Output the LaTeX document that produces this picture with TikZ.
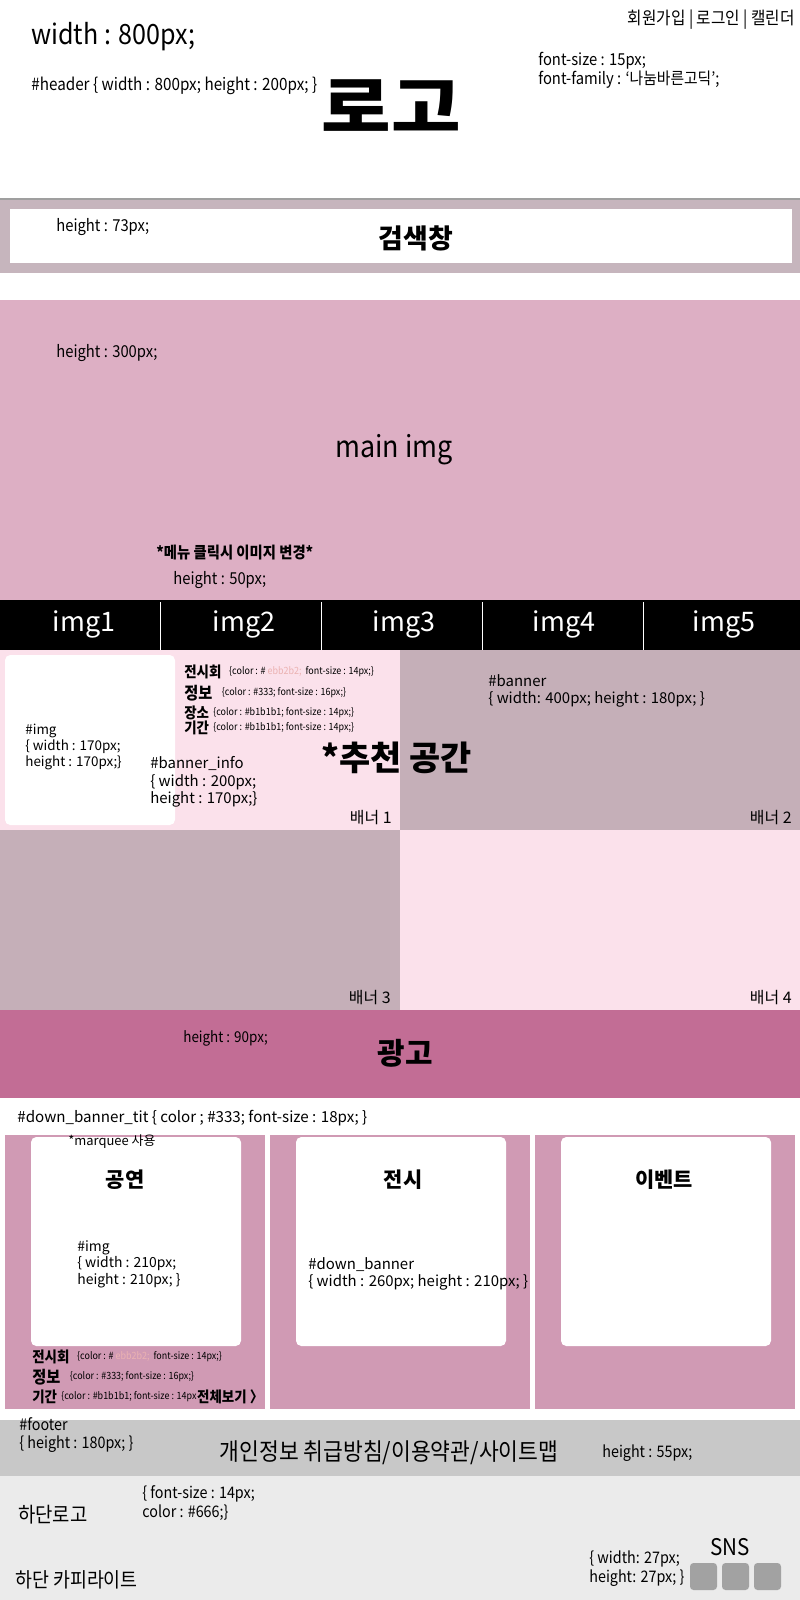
\documentclass[tikz,border=0pt]{standalone}
\usepackage{fontspec}
\setmainfont{Noto Sans CJK KR}
\newfontfamily\narrowfont{Noto Sans CJK KR}[FakeStretch=0.9]
\newfontfamily\widefont{Noto Sans CJK KR}[FakeStretch=1.15]
\usetikzlibrary{positioning}
\definecolor{searchbg}{HTML}{C6B5BD}
\definecolor{mainbg}{HTML}{DDAFC4}
\definecolor{pinkbg}{HTML}{FBE1EB}
\definecolor{mauvebg}{HTML}{C5AFB8}
\definecolor{adbg}{HTML}{C26D95}
\definecolor{downbg}{HTML}{D09AB4}
\definecolor{footdark}{HTML}{C8C8C8}
\definecolor{footlight}{HTML}{EBEBEB}
\definecolor{snsgray}{HTML}{A2A2A2}
\definecolor{ebbpink}{HTML}{EBB2B2}
% font size given in px of the 800px layout
\newcommand{\px}[1]{\pgfmathsetlengthmacro\pxsize{#1*0.5669pt}\fontsize{\pxsize}{1.18\dimexpr\pxsize\relax}\selectfont}

\begin{document}
\begin{tikzpicture}[x=0.02cm, y=-0.02cm,
  note/.style={anchor=west, inner sep=0pt, font=\narrowfont\px{#1}},
  code/.style={anchor=west, inner sep=0pt, font=\px{#1}},
  title/.style={inner sep=0pt, font=\bfseries\px{#1}},
  lbl/.style={anchor=west, inner sep=0pt, font=\bfseries\narrowfont\px{#1}},
  tiny/.style={anchor=west, inner sep=0pt, font=\narrowfont\px{10}}
]
  \useasboundingbox (0,0) rectangle (800,1600);
  \fill[white] (0,0) rectangle (800,1600);

  % Header
  \node[note=28] (wid) at (31,37) {width : 800px;};
  \node[note=17] (hdr) at (31,86) {\#header \{ width : 800px; height : 200px; \}};
  \node[inner sep=0pt, font=\bfseries\widefont\px{66}] (logo) at (391,106) {로고};
  \node[note=17.5, anchor=east] (util) at (795,20) {회원가입 | 로그인 | 캘린더};
  \node[note=16.5, align=left] (fnt) at (538,70) {font-size : 15px;\\font-family : ‘나눔바른고딕’;};
  \draw[gray!75, line width=0.8pt] (0,199) -- (800,199);

  % Search bar
  \fill[searchbg] (0,199.5) rectangle (800,273);
  \fill[white] (10,209) rectangle (792,263);
  \node[note=16.5] (srchh) at (56,227) {height : 73px;};
  \node[title=27] (srch) at (416,238) {검색창};

  % Main image
  \fill[mainbg] (0,300) rectangle (800,600);
  \node[note=16.5] (mainh) at (56,353) {height : 300px;};
  \node[font=\narrowfont\px{30}] (mainimg) at (394,450) {main img};
  \node[lbl=16] (menu) at (156,553) {*메뉴 클릭시 이미지 변경*};
  \node[note=16.5] (navh) at (173,580) {height : 50px;};

  % Menu bar
  \fill[black] (0,600) rectangle (800,650);
  \foreach \i in {1,...,5}
    \node[font=\px{27}, white] (nav\i) at ({(\i-1)*160+84},624) {img\i};
  \foreach \x in {160,321,482,643}
    \draw[white, line width=0.5pt] (\x,602) -- (\x,650);

  % Banners
  \fill[pinkbg] (0,650) rectangle (400,830);
  \fill[mauvebg] (400,650) rectangle (800,830);
  \fill[mauvebg] (0,830) rectangle (400,1010);
  \fill[pinkbg] (400,830) rectangle (800,1010);
  \fill[white, rounded corners=3pt] (5,655) rectangle (175,825);
  \node[code=13.5, align=left] (bimg) at (25,747) {\#img\\\{ width : 170px;\\height : 170px;\}};
  \node[code=15, align=left] (binfo) at (150,782) {\#banner\_info\\\{ width : 200px;\\height : 170px;\}};
  \node[lbl=15] (exh) at (184,672) {전시회};
  \node[tiny, right=4pt of exh] (exhc) {\{color : \# \textcolor{ebbpink}{ebb2b2;}\ \ font-size : 14px;\}};
  \node[lbl=17] (info) at (184,693) {정보};
  \node[tiny, right=5pt of info] (infoc) {\{color : \#333; font-size : 16px;\}};
  \node[lbl=15] (place) at (184,713) {장소};
  \node[tiny, right=2pt of place] (placec) {\{color : \#b1b1b1; font-size : 14px;\}};
  \node[lbl=15] (term) at (184,728) {기간};
  \node[tiny, right=2pt of term] (termc) {\{color : \#b1b1b1; font-size : 14px;\}};
  \node[title=34] (rec) at (397,758) {*추천 공간};
  \node[code=15, align=left] (bb) at (488,691) {\#banner\\\{ width: 400px; height : 180px; \}};
  \foreach \x/\y/\n in {392/818/1, 792/818/2, 391/998/3, 792/998/4}
    \node[code=16, anchor=east] (bn\n) at (\x,\y) {배너 \n};

  % Ad
  \fill[adbg] (0,1010) rectangle (800,1098);
  \node[note=15] (adh) at (183,1038) {height : 90px;};
  \node[title=30] (ad) at (405,1053) {광고};

  % Down banners
  \node[code=15.2] (dbt) at (17,1118) {\#down\_banner\_tit \{ color ; \#333; font-size : 18px; \}};
  \foreach \x/\tx/\ttl [count=\i] in {5/125/공연, 270/403/전시, 535/664/이벤트}{
    \fill[downbg] (\x,1135) rectangle ++(260,274);
    \fill[white, rounded corners=3pt] (\x+26,1137) rectangle ++(210,209);
    \node[title=21] (dt\i) at (\tx,1180) {\ttl};
  }
  \node[code=13] (marq) at (68,1142) {*marquee 사용};
  \node[code=14, align=left] (dimg) at (77,1264) {\#img\\\{ width : 210px;\\height : 210px; \}};
  \node[code=15, align=left] (dban) at (308,1274) {\#down\_banner\\\{ width : 260px; height : 210px; \}};
  \node[lbl=15] (dexh) at (32,1357) {전시회};
  \node[tiny, right=4pt of dexh] (dexhc) {\{color : \# \textcolor{ebbpink}{ebb2b2;}\ \ font-size : 14px;\}};
  \node[lbl=17] (dinfo) at (32,1377) {정보};
  \node[tiny, right=5pt of dinfo] (dinfoc) {\{color : \#333; font-size : 16px;\}};
  \node[lbl=15] (dterm) at (32,1397) {기간};
  \node[tiny, right=2pt of dterm] (dtermc) {\{color : \#b1b1b1; font-size : 14px};
  \node[lbl=15, right=0pt of dtermc] (more) {전체보기 〉};

  % Footer
  \fill[footdark] (0,1420) rectangle (800,1476);
  \fill[footlight] (0,1476) rectangle (800,1600);
  \node[note=16, align=left] (foot) at (19,1435) {\#footer\\\{ height : 180px; \}};
  \node[font=\narrowfont\px{24}] (policy) at (389,1453) {개인정보 취급방침/이용약관/사이트맵};
  \node[note=16] (footh) at (602,1453) {height : 55px;};
  \node[note=21] (flogo) at (18,1515) {하단로고};
  \node[note=16, align=left] (fcss) at (142,1503) {\{ font-size : 14px;\\color : \#666;\}};
  \node[note=20.5] (fcopy) at (15,1580) {하단 카피라이트};
  \node[font=\narrowfont\px{23}] (sns) at (730,1547) {SNS};
  \node[note=16, align=left] (snsc) at (589,1569) {\{ width: 27px;\\height: 27px; \}};
  \foreach \i in {0,1,2}
    \fill[snsgray, rounded corners=2pt] ({690+\i*32},1563) rectangle ++(27,27);
\end{tikzpicture}
\end{document}
